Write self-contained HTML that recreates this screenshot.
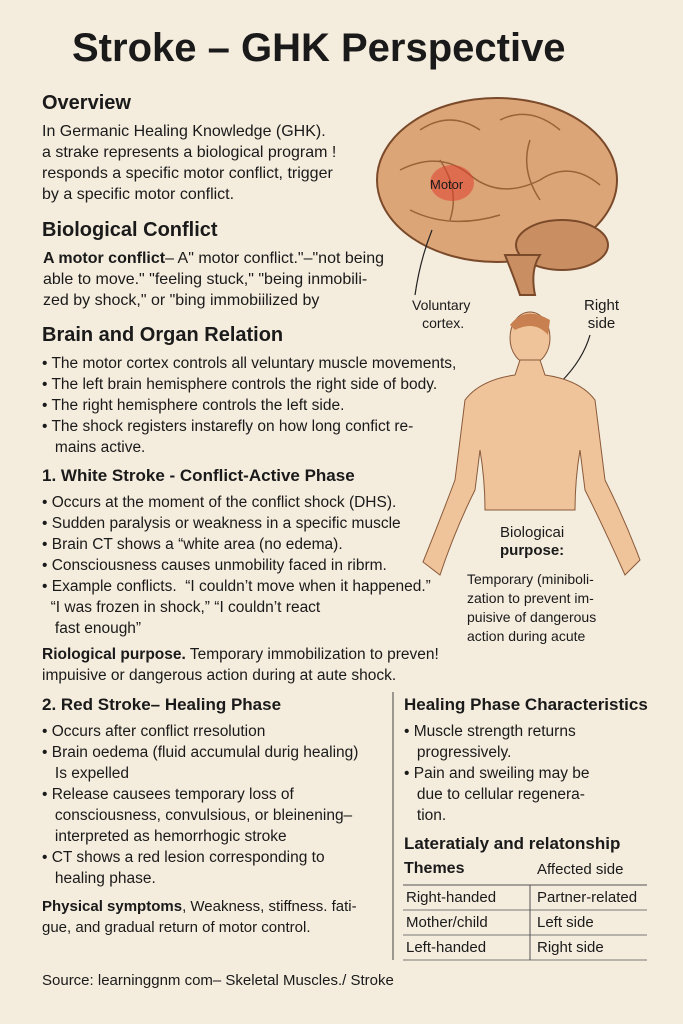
<!DOCTYPE html>
<html><head><meta charset="utf-8"><style>
body{margin:0;width:683px;height:1024px;background:#f4ecdd;font-family:"Liberation Sans",sans-serif;color:#1a1a1a;position:relative;overflow:hidden}
.t{position:absolute;white-space:nowrap;font-size:15.5px;line-height:18px}
.h{position:absolute;white-space:nowrap;font-size:20px;font-weight:bold}
.h2{position:absolute;white-space:nowrap;font-size:17px;font-weight:bold}
b{font-weight:bold}
</style></head><body>
<div style="position:absolute;left:72px;top:26px;font-size:40px;font-weight:bold;white-space:nowrap">Stroke – GHK Perspective</div>

<svg style="position:absolute;left:0;top:0" width="683" height="1024">
<ellipse cx="497" cy="180" rx="120" ry="82" fill="#dca577" stroke="#7a4a2a" stroke-width="2"/>
<ellipse cx="562" cy="245" rx="46" ry="25" fill="#c98f63" stroke="#7a4a2a" stroke-width="2"/>
<path d="M505 255 Q515 280 520 295 L535 295 Q530 270 540 255Z" fill="#c98f63" stroke="#7a4a2a" stroke-width="2"/>
<path d="M400 170 Q440 150 470 175 Q500 200 540 180 Q570 160 600 185 M420 130 Q450 110 480 130 M500 120 Q530 105 560 130 M410 210 Q450 230 500 215 M440 160 Q460 190 450 220 M530 140 Q520 170 540 200" fill="none" stroke="#9a6238" stroke-width="1.5"/>
<ellipse cx="452" cy="183" rx="22" ry="18" fill="#e04030" opacity="0.55"/>
<path d="M432 230 Q420 260 415 295" fill="none" stroke="#222" stroke-width="1.2"/>
<path d="M590 335 Q580 370 540 400" fill="none" stroke="#222" stroke-width="1.2"/>
<ellipse cx="530" cy="338" rx="20" ry="26" fill="#f0c49a" stroke="#8a5a3a"/>
<path d="M520 360 L540 360 L545 375 Q580 380 595 400 Q600 440 605 480 Q625 520 640 560 L625 575 Q605 530 585 490 L580 450 Q575 480 575 510 L485 510 Q485 480 480 450 L475 490 Q455 530 440 575 L423 562 Q440 520 455 480 Q460 440 465 400 Q480 380 515 375Z" fill="#f0c49a" stroke="#8a5a3a"/>
<path d="M510 325 Q525 305 550 320 L548 335 Q535 320 515 330Z" fill="#c98050"/>
<line x1="393" y1="692" x2="393" y2="960" stroke="#444" stroke-width="1"/>
<line x1="403" y1="885" x2="647" y2="885" stroke="#555"/>
<line x1="403" y1="910" x2="647" y2="910" stroke="#777"/>
<line x1="403" y1="935" x2="647" y2="935" stroke="#777"/>
<line x1="403" y1="960" x2="647" y2="960" stroke="#777"/>
<line x1="530" y1="885" x2="530" y2="960" stroke="#555"/>
</svg>
<div class="t" style="left:430px;top:176px;font-size:13px">Motor</div>
<div class="t" style="left:412px;top:296px;font-size:14px;text-align:center">Voluntary<br>&nbsp;cortex.</div>
<div class="t" style="left:584px;top:297px;font-size:15px;text-align:center">Right<br>side</div>
<div class="t" style="left:500px;top:524px;font-size:15px">Biologicai<br><b>purpose:</b></div>
<div class="t" style="left:467px;top:570px;font-size:14px;line-height:19px">Temporary (miniboli-<br>zation to prevent im-<br>puisive of dangerous<br>action during acute</div>

<div class="h" style="left:42px;top:92px">Overview</div>
<div class="t" style="left:42px;top:121px;line-height:21px;font-size:16px">In Germanic Healing Knowledge (GHK).<br>a strake represents a biological program !<br>responds a specific motor conflict, trigger<br>by a specific motor conflict.</div>
<div class="h" style="left:42px;top:219px">Biological Conflict</div>
<div class="t" style="left:43px;top:248px;line-height:21px;font-size:16px"><b>A motor conflict</b>– A" motor conflict."–"not being<br>able to move." "feeling stuck," "being inmobili-<br>zed by shock," or "bing immobiilized by</div>
<div class="h" style="left:42px;top:324px">Brain and Organ Relation</div>
<div class="t" style="left:42px;top:353px;line-height:21px">• The motor cortex controls all veluntary muscle movements,<br>• The left brain hemisphere controls the right side of body.<br>• The right hemisphere controls the left side.<br>• The shock registers instarefly on how long confict re-<br>&nbsp;&nbsp;&nbsp;mains active.</div>
<div class="h2" style="left:42px;top:466px">1. White Stroke - Conflict-Active Phase</div>
<div class="t" style="left:42px;top:492px;line-height:21px">• Occurs at the moment of the conflict shock (DHS).<br>• Sudden paralysis or weakness in a specific muscle<br>• Brain CT shows a “white area (no edema).<br>• Consciousness causes unmobility faced in ribrm.<br>• Example conflicts.&nbsp; “I couldn’t move when it happened.”<br>&nbsp;&nbsp;“I was frozen in shock,” “I couldn’t react<br>&nbsp;&nbsp;&nbsp;fast enough”</div>
<div class="t" style="left:42px;top:644px;line-height:21px"><b>Riological purpose.</b> Temporary immobilization to preven!<br>impuisive or dangerous action during at aute shock.</div>
<div class="h2" style="left:42px;top:695px">2. Red Stroke– Healing Phase</div>
<div class="t" style="left:42px;top:721px;line-height:21px">• Occurs after conflict rresolution<br>• Brain oedema (fluid accumulal durig healing)<br>&nbsp;&nbsp;&nbsp;Is expelled<br>• Release causees temporary loss of<br>&nbsp;&nbsp;&nbsp;consciousness, convulsious, or bleinening–<br>&nbsp;&nbsp;&nbsp;interpreted as hemorrhogic stroke<br>• CT shows a red lesion corresponding to<br>&nbsp;&nbsp;&nbsp;healing phase.</div>
<div class="t" style="left:42px;top:896px;line-height:21px;font-size:15px"><b>Physical symptoms</b>, Weakness, stiffness. fati-<br>gue, and gradual return of motor control.</div>
<div class="h2" style="left:404px;top:695px">Healing Phase Characteristics</div>
<div class="t" style="left:404px;top:721px;line-height:21px">• Muscle strength returns<br>&nbsp;&nbsp;&nbsp;progressively.<br>• Pain and sweiling may be<br>&nbsp;&nbsp;&nbsp;due to cellular regenera-<br>&nbsp;&nbsp;&nbsp;tion.</div>
<div class="h2" style="left:404px;top:834px">Lateratialy and relatonship</div>
<div class="t" style="left:404px;top:860px;font-size:16px"><b>Themes</b></div>
<div class="t" style="left:537px;top:861px;font-size:15px">Affected side</div>
<div class="t" style="left:406px;top:889px;font-size:15px">Right-handed</div>
<div class="t" style="left:537px;top:889px;font-size:15px">Partner-related</div>
<div class="t" style="left:406px;top:914px;font-size:15px">Mother/child</div>
<div class="t" style="left:537px;top:914px;font-size:15px">Left side</div>
<div class="t" style="left:406px;top:939px;font-size:15px">Left-handed</div>
<div class="t" style="left:537px;top:939px;font-size:15px">Right side</div>
<div class="t" style="left:42px;top:972px;font-size:15px">Source: learninggnm com– Skeletal Muscles./ Stroke</div>
</body></html>
